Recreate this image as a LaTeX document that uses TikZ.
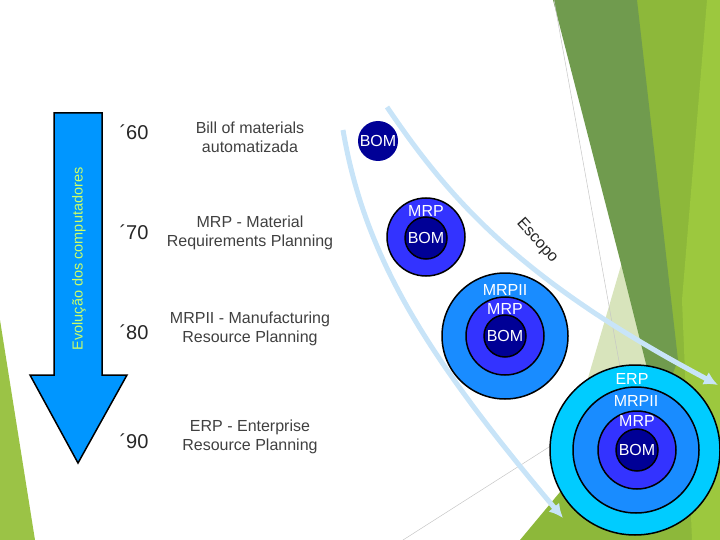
\documentclass[tikz,border=0pt]{standalone}
\usepackage{fontspec}
\setmainfont{Liberation Sans}
\usepackage{xcolor}
\usepackage{tikz}
\usetikzlibrary{positioning, arrows.meta}
\definecolor{NavyBOM}{RGB}{0,0,150}
\definecolor{BlueMRP}{RGB}{51,51,255}
\definecolor{BlueMRPII}{RGB}{25,140,255}
\definecolor{CyanERP}{RGB}{0,204,255}
\definecolor{ArrowBlue}{RGB}{0,150,255}
\definecolor{ScopeBlue}{RGB}{200,228,248}
\definecolor{EvoGreen}{RGB}{204,255,102}
\definecolor{LeafGreen}{RGB}{141,184,58}
\definecolor{DarkLeaf}{RGB}{112,155,78}
\definecolor{BrightLeaf}{RGB}{156,200,62}
\definecolor{PaleLeaf}{RGB}{216,228,188}
\definecolor{SideLeaf}{RGB}{155,195,70}
\definecolor{YearGray}{RGB}{38,38,38}
\definecolor{TextGray}{RGB}{64,64,64}
\tikzset{
  ring/.style={circle, draw=black, line width=1.5pt, inner sep=0pt},
  bomring/.style={ring, fill=NavyBOM, minimum size=42pt},
  mrpring/.style={ring, fill=BlueMRP, minimum size=78pt},
  mrpiiring/.style={ring, fill=BlueMRPII, minimum size=126pt},
  erpring/.style={ring, fill=CyanERP, minimum size=170pt},
  ringlbl/.style={text=white, font=\fontsize{16}{16}\selectfont, inner sep=0pt},
  yearlbl/.style={text=YearGray, font=\fontsize{20}{20}\selectfont, inner sep=0pt},
  desclbl/.style={text=TextGray, font=\fontsize{16}{19}\selectfont, align=center, inner sep=0pt},
  scopearr/.style={-{Latex[length=14pt,width=14pt]}, line width=5pt, ScopeBlue},
  bigarrow/.style={fill=ArrowBlue, draw=black, line width=1.5pt, line join=miter},
  thinline/.style={draw=gray!45, line width=0.5pt},
}
\begin{document}
\begin{tikzpicture}[x=1pt, y=-1pt]
  \useasboundingbox (0,0) rectangle (720,540);
  % background leaves
  \fill[SideLeaf] (0,320) -- (35,540) -- (0,540) -- cycle;
  \fill[LeafGreen] (620,0) -- (720,0) -- (720,540) -- (520,540) -- (560,492) -- (640,420) -- (662,360) -- cycle;
  \fill[PaleLeaf] (600,175) -- (645,270) -- (662,400) -- (565,488) -- (588,378) -- (622,262) -- cycle;
  \fill[DarkLeaf] (553,0) -- (637,0) -- (678,360) -- (662,402) -- (648,372) -- (620,260) -- cycle;
  \fill[BrightLeaf] (707,0) -- (720,0) -- (720,540) -- (692,540) -- (682,300) -- cycle;
  \draw[thinline] (554,0) -- (620,367);
  \draw[thinline] (403,540) -- (560,440);

  % evolution arrow
  \draw[bigarrow] (54,113) -- (102,113) -- (102,375) -- (127,375) -- (78,463) -- (30,375) -- (54,375) -- cycle;
  \node[rotate=90, text=EvoGreen, font=\fontsize{14.5}{14.5}\selectfont] (evo) at (79,259) {Evolução dos computadores};

  % decades
  \foreach \yr/\yy/\dy/\txt in {60/132/137/{Bill of materials\\automatizada},
      70/232/233/{MRP - Material\\Requirements Planning},
      80/332/329/{MRPII - Manufacturing\\Resource Planning},
      90/441/437/{ERP - Enterprise\\Resource Planning}} {
    \node[yearlbl] (y\yr) at (134,\yy) {´\yr};
    \node[desclbl] (d\yr) at (250,\dy) {\txt};
  }

  % scope arrows
  \coordinate (lcStart) at (343,130);
  \coordinate (lcEnd) at (563,518);
  \coordinate (rcStart) at (387,107);
  \coordinate (rcEnd) at (718,385);
  \draw[scopearr] (lcStart) .. controls (365,260) and (430,360) .. (lcEnd);
  \draw[scopearr] (rcStart) .. controls (450,200) and (520,280) .. (rcEnd);
  \node[rotate=-48, text=YearGray, font=\fontsize{16}{16}\selectfont] (escopo) at (537,241) {Escopo};

  % BOM
  \node[bomring, line width=0pt, draw=none, minimum size=40pt] (bom1) at (378,141) {};
  \node[ringlbl] (bom1-t) at (bom1.center) {BOM};

  % MRP
  \node[mrpring] (mrp2) at (426,237) {};
  \node[bomring] (bom2) at (426,238) {};
  \node[ringlbl] (mrp2-t) at (426,211) {MRP};
  \node[ringlbl] (bom2-t) at (bom2.center) {BOM};

  % MRPII
  \node[mrpiiring] (mrpii3) at (505,336) {};
  \node[mrpring] (mrp3) at (505,336) {};
  \node[bomring] (bom3) at (505,336) {};
  \node[ringlbl] (mrpii3-t) at (505,290) {MRPII};
  \node[ringlbl] (mrp3-t) at (505,309) {MRP};
  \node[ringlbl] (bom3-t) at (bom3.center) {BOM};

  % ERP
  \node[erpring] (erp4) at (635,450) {};
  \node[mrpiiring] (mrpii4) at (636,450) {};
  \node[mrpring] (mrp4) at (637,450) {};
  \node[bomring] (bom4) at (637,450) {};
  \node[ringlbl] (erp4-t) at (632,379) {ERP};
  \node[ringlbl] (mrpii4-t) at (636,401) {MRPII};
  \node[ringlbl] (mrp4-t) at (637,421) {MRP};
  \node[ringlbl] (bom4-t) at (bom4.center) {BOM};
\end{tikzpicture}
\end{document}
